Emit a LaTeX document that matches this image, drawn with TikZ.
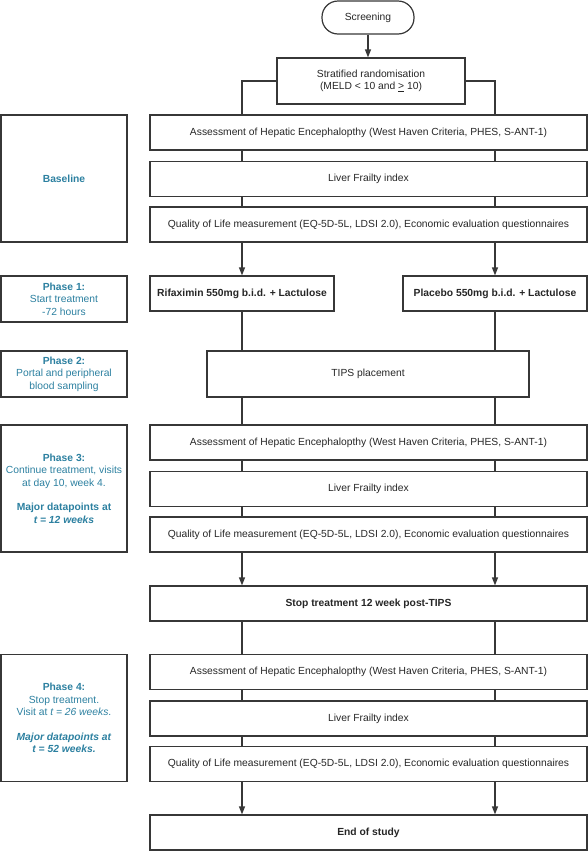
\documentclass[tikz,border=0pt]{standalone}
\usepackage{fontspec}
\setmainfont{Liberation Sans}
\usetikzlibrary{arrows.meta}
\definecolor{phasetxt}{RGB}{44,128,160}
\definecolor{boxline}{RGB}{55,55,55}
\tikzset{
  box/.style={draw=boxline, line width=1.2pt, minimum width=437pt, minimum height=35pt,
    inner sep=0pt, text=black!85, font=\fontsize{10.3}{12.5}\selectfont},
  boldbox/.style={box, font=\fontsize{10.3}{12.5}\selectfont\bfseries},
  armbox/.style={boldbox, minimum width=184pt},
  phasebox/.style={draw=boxline, line width=1.2pt, minimum width=126pt, inner sep=0pt,
    align=center, text=phasetxt, font=\fontsize{10.3}{12.5}\selectfont},
  link/.style={draw=boxline, line width=1.2pt},
  flow/.style={link, -{Triangle[length=8pt,width=6pt]}}
}

\begin{document}
\begin{tikzpicture}[x=1pt,y=-1pt]
\useasboundingbox (0,0) rectangle (588,852);
\coordinate (L) at (242,0);
\coordinate (R) at (495,0);

\node[box, rounded corners=16pt, minimum width=92pt, minimum height=33pt] (scr) at (368,17.5) {Screening};
\node[box, minimum width=188pt, minimum height=46pt, align=center] (rand) at (371,81)
  {Stratified randomisation\\(MELD < 10 and \underline{>} 10)};

\node[phasebox, minimum height=127pt] (base) at (64,178.5) {\textbf{Baseline}};
\node[box] (he1) at (368.5,132.5) {Assessment of Hepatic Encephalopthy (West Haven Criteria, PHES, S-ANT-1)};
\node[box] (lfi1) at (368.5,179) {Liver Frailty index};
\node[box] (qol1) at (368.5,224.5) {Quality of Life measurement (EQ-5D-5L, LDSI 2.0), Economic evaluation questionnaires};

\node[phasebox, minimum height=46pt] (ph1) at (64,299) {\textbf{Phase 1:}\\Start treatment\\-72 hours};
\node[armbox] (rif) at (242,293.5) {Rifaximin 550mg b.i.d. + Lactulose};
\node[armbox] (plac) at (495,293.5) {Placebo 550mg b.i.d. + Lactulose};

\node[phasebox, minimum height=46pt] (ph2) at (64,374) {\textbf{Phase 2:}\\Portal and peripheral\\blood sampling};
\node[box, minimum width=322pt, minimum height=46pt] (tips) at (368,374) {TIPS placement};

\node[phasebox, minimum height=127pt] (ph3) at (64,488.5) {\textbf{Phase 3:}\\Continue treatment, visits\\at day 10, week 4.\\[12pt]
  \textbf{Major datapoints at}\\\textbf{\textit{t = 12 weeks}}};
\node[box] (he2) at (368.5,442.5) {Assessment of Hepatic Encephalopthy (West Haven Criteria, PHES, S-ANT-1)};
\node[box] (lfi2) at (368.5,489) {Liver Frailty index};
\node[box] (qol2) at (368.5,534.5) {Quality of Life measurement (EQ-5D-5L, LDSI 2.0), Economic evaluation questionnaires};

\node[boldbox] (stop) at (368.5,603.5) {Stop treatment 12 week post-TIPS};

\node[phasebox, minimum height=127pt] (ph4) at (64,718) {\textbf{Phase 4:}\\Stop treatment.\\Visit at \textit{t = 26 weeks}.\\[12pt]
  \textbf{\textit{Major datapoints at}}\\\textbf{\textit{t = 52 weeks.}}};
\node[box] (he3) at (368.5,672) {Assessment of Hepatic Encephalopthy (West Haven Criteria, PHES, S-ANT-1)};
\node[box] (lfi3) at (368.5,718.5) {Liver Frailty index};
\node[box] (qol3) at (368.5,764) {Quality of Life measurement (EQ-5D-5L, LDSI 2.0), Economic evaluation questionnaires};

\node[boldbox] (fin) at (368.5,832.5) {End of study};

\draw[flow] (scr.south) -- (scr.south |- rand.north);
\draw[link] (rand.west) -| (he1.north -| L);
\draw[link] (rand.east) -| (he1.north -| R);
\draw[link] (he1.south -| L) -- (lfi1.north -| L);
\draw[link] (he1.south -| R) -- (lfi1.north -| R);
\draw[link] (lfi1.south -| L) -- (qol1.north -| L);
\draw[link] (lfi1.south -| R) -- (qol1.north -| R);
\draw[flow] (qol1.south -| rif) -- (rif.north);
\draw[flow] (qol1.south -| plac) -- (plac.north);
\draw[link] (rif.south) -- (rif.south |- tips.north);
\draw[link] (plac.south) -- (plac.south |- tips.north);
\draw[link] (tips.south -| L) -- (he2.north -| L);
\draw[link] (tips.south -| R) -- (he2.north -| R);
\draw[link] (he2.south -| L) -- (lfi2.north -| L);
\draw[link] (he2.south -| R) -- (lfi2.north -| R);
\draw[link] (lfi2.south -| L) -- (qol2.north -| L);
\draw[link] (lfi2.south -| R) -- (qol2.north -| R);
\draw[flow] (qol2.south -| L) -- (stop.north -| L);
\draw[flow] (qol2.south -| R) -- (stop.north -| R);
\draw[link] (stop.south -| L) -- (he3.north -| L);
\draw[link] (stop.south -| R) -- (he3.north -| R);
\draw[link] (he3.south -| L) -- (lfi3.north -| L);
\draw[link] (he3.south -| R) -- (lfi3.north -| R);
\draw[link] (lfi3.south -| L) -- (qol3.north -| L);
\draw[link] (lfi3.south -| R) -- (qol3.north -| R);
\draw[flow] (qol3.south -| L) -- (fin.north -| L);
\draw[flow] (qol3.south -| R) -- (fin.north -| R);
\end{tikzpicture}
\end{document}
